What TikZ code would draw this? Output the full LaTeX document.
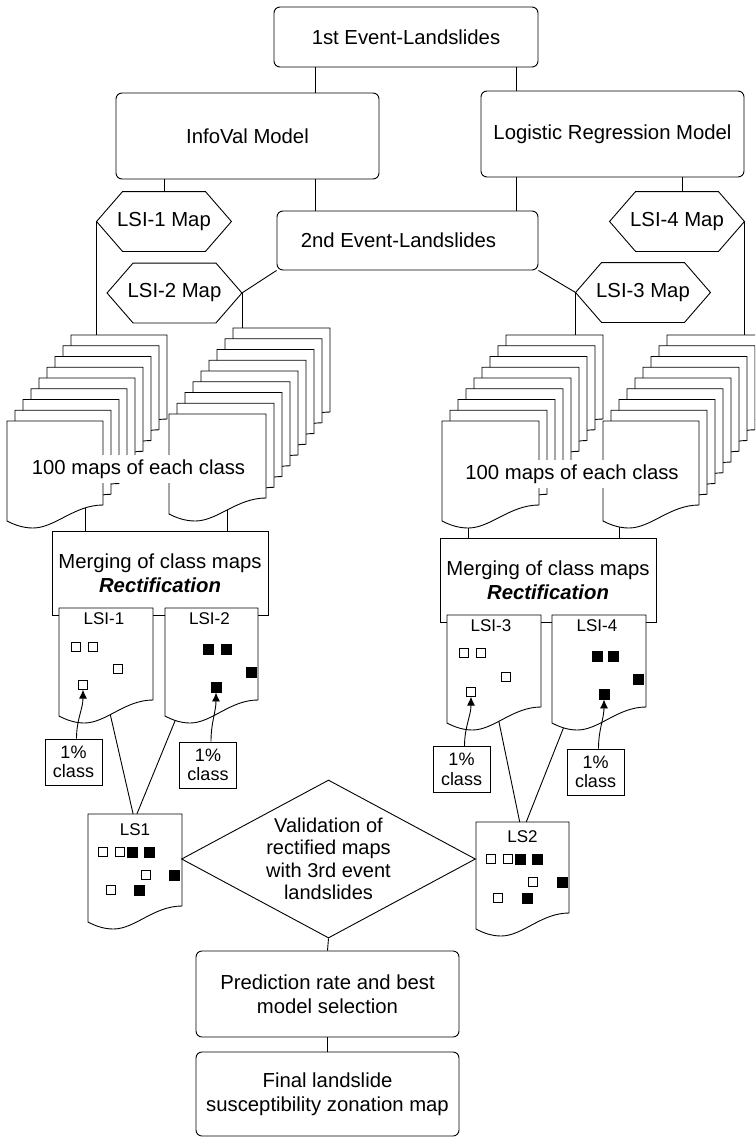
\documentclass[tikz,border=0pt]{standalone}
\usepackage{fontspec}
\setmainfont{Liberation Sans}
\usetikzlibrary{shapes.geometric,arrows.meta,calc,backgrounds}

\newcommand{\mainfs}{\fontsize{20.3pt}{23.5pt}\selectfont}
\newcommand{\smallfs}{\fontsize{17pt}{19pt}\selectfont}
\newcommand{\pctfs}{\fontsize{18pt}{19.5pt}\selectfont}
\newcommand{\diafs}{\fontsize{20pt}{22.5pt}\selectfont}

% map sheet: name, x, y (top left), width, height
\newcommand{\mapsheet}[5]{%
  \node[sheet, minimum width=#4pt, minimum height=#5pt] (#1) at (#2,#3) {};
  \filldraw[fill=white] (#1.north west) -- (#1.north east) -- (#1.south east)
    .. controls ($(#1.south west)!.7!(#1.south east)$) and ($(#1.south west)!.5!(#1.south east)+(0,23)$)
    .. ($(#1.south west)!.27!(#1.south east)+(0,23)$)
    .. controls ($(#1.south west)!.17!(#1.south east)+(0,23)$) and ($(#1.south west)!.08!(#1.south east)+(0,20)$)
    .. ($(#1.south west)+(0,16)$) -- cycle;
}
% hexagon label: name, x, y, text
\newcommand{\hexmap}[4]{%
  \node[hexbox] (#1) at (#2,#3) {#4};
  \draw (#1.west) -- ([xshift=26pt]#1.north west) -- ([xshift=-26pt]#1.north east)
    -- (#1.east) -- ([xshift=-26pt]#1.south east) -- ([xshift=26pt]#1.south west) -- cycle;
}
% class squares on a sheet: sheet, style, offsets
\newcommand{\classmarks}[3]{%
  \foreach \dx/\dy [count=\i] in {#3}
    \node[#2] (#1#2\i) at ($(#1.north west)+(\dx,\dy)$) {};
}

\begin{document}
\begin{tikzpicture}[x=1pt, y=-1pt, line width=0.9pt,
    every node/.style={font=\mainfs},
    every on background layer/.style={line width=0.9pt},
    box/.style={draw, rounded corners=6pt, minimum width=263pt, minimum height=86pt, inner sep=0pt, align=center},
    plainbox/.style={draw, minimum width=216pt, minimum height=84pt, inner sep=0pt, align=center},
    hexbox/.style={minimum width=134pt, minimum height=59pt, inner sep=0pt},
    sheet/.style={anchor=north west, inner sep=0pt, outer sep=0pt},
    opensq/.style={draw, fill=white, minimum size=8.5pt, inner sep=0pt, line width=0.8pt},
    fullsq/.style={draw, fill=black, minimum size=10pt, inner sep=0pt},
    pctbox/.style={draw, font=\pctfs, align=center, minimum width=57pt, minimum height=46pt, inner sep=0pt},
    count/.style={fill=white, inner xsep=2pt, inner ysep=5pt},
    valid/.style={diamond, draw, aspect=1.86, inner sep=0pt, minimum width=294pt, minimum height=158pt, align=center, font=\diafs}]
    \useasboundingbox (0,0) rectangle (755,1137);
    \clip (0,0) rectangle (755,1137);

    \node[box, minimum width=264pt, minimum height=60pt] (ev1) at (406,37) {1st Event-Landslides};
    \node[box] (infoval) at (247.5,136) {InfoVal Model};
    \node[box] (logreg) at (612.5,134) {Logistic Regression Model};
    \node[box, minimum width=261pt, minimum height=59pt] (ev2) at (407.5,240.5) {\hspace*{-18pt}2nd Event-Landslides};

    \hexmap{lsi1map}{164}{221.5}{LSI-1 Map}
    \hexmap{lsi2map}{174.5}{293}{LSI-2 Map}
    \hexmap{lsi3map}{643}{292.5}{LSI-3 Map}
    \hexmap{lsi4map}{677}{221.5}{LSI-4 Map}

    % 100 maps per class
    \foreach \k in {8,7,...,0} {
      \mapsheet{sA\k}{7+8*\k}{421-10.75*\k}{96}{84}
      \mapsheet{sB\k}{169+8*\k}{414-10.75*\k}{97}{84}
      \mapsheet{sC\k}{442+8*\k}{421-10.75*\k}{97}{84}
      \mapsheet{sD\k}{603+8*\k}{421-10.75*\k}{96}{84}
    }
    \node[count] (cntL) at (138.5,469) {100 maps of each class};
    \node[count] (cntR) at (572,474) {100 maps of each class};

    \node[plainbox] (mergeL) at (160,573) {Merging of class maps\\\textbf{\textit{Rectification}}};
    \node[plainbox] (mergeR) at (548,580) {Merging of class maps\\\textbf{\textit{Rectification}}};

    \mapsheet{lsi1}{59}{608}{94}{92}
    \node[font=\smallfs] (lsi1t) at ($(lsi1.north)+(-2,11)$) {LSI-1};
    \classmarks{lsi1}{opensq}{17/39,34/39,59/61,24/77}
    \mapsheet{lsi2}{165}{608}{93}{92}
    \node[font=\smallfs] (lsi2t) at ($(lsi2.north)+(-2,11)$) {LSI-2};
    \classmarks{lsi2}{fullsq}{43/41,61/41,86/64,51/79}
    \mapsheet{lsi3}{447}{615}{94}{92}
    \node[font=\smallfs] (lsi3t) at ($(lsi3.north)+(-3,11)$) {LSI-3};
    \classmarks{lsi3}{opensq}{17/38,34/38,59/62,24/77}
    \mapsheet{lsi4}{552}{615}{94}{92}
    \node[font=\smallfs] (lsi4t) at ($(lsi4.north)+(-2,11)$) {LSI-4};
    \classmarks{lsi4}{fullsq}{45/41,61/41,86/64,52/79}

    \node[pctbox] (pc1) at (73.5,762) {1\%\\class};
    \node[pctbox] (pc2) at (208,765) {1\%\\class};
    \node[pctbox] (pc3) at (461.5,769.5) {1\%\\class};
    \node[pctbox] (pc4) at (595.5,772) {1\%\\class};
    \foreach \p/\m in {pc1/lsi1opensq4, pc2/lsi2fullsq4, pc3/lsi3opensq4, pc4/lsi4fullsq4}
      \draw[-{Latex[length=9pt,width=8pt]}] ([xshift=3pt]\p.north) to[out=90,in=-90] (\m.south);

    \mapsheet{ls1}{88}{814}{94}{92}
    \node[font=\smallfs] (ls1t) at ($(ls1.north)+(0,16)$) {LS1};
    \classmarks{ls1}{opensq}{15/38,32/38,58/61,23/76}
    \classmarks{ls1}{fullsq}{44/38,61/38,86/61,51/76}
    \mapsheet{ls2}{476}{822}{93}{91}
    \node[font=\smallfs] (ls2t) at ($(ls2.north)+(0,15)$) {LS2};
    \classmarks{ls2}{opensq}{15/37,32/37,57/60,22/76}
    \classmarks{ls2}{fullsq}{44/37,61/37,86/60,51/76}

    \node[valid] (valid) at (328.5,859) {Validation of\\rectified maps\\with 3rd event\\landslides};
    \node[box] (pred) at (327.5,994) {Prediction rate and best\\model selection};
    \node[box, minimum height=84pt] (final) at (327.5,1094) {Final landslide\\susceptibility zonation map};

    \begin{scope}[on background layer]
      \coordinate (cL) at ($(ev1.south west)+(42,0)$);
      \coordinate (cR) at ($(ev1.south east)+(-22,0)$);
      \draw (cL) -- (cL |- infoval.north);
      \draw (cR) -- (cR |- logreg.north);
      \draw (cL |- infoval.south) -- (cL |- ev2.north);
      \draw (cR |- logreg.south) -- (cR |- ev2.north);
      \draw (lsi1map.north) -- (lsi1map.north |- infoval.south);
      \draw ([xshift=5pt]lsi4map.north) -- ([xshift=5pt]lsi4map.north |- logreg.south);
      \draw (ev2.south west) -- (lsi2map.east);
      \draw (ev2.south east) -- (lsi3map.west);
      \draw (lsi1map.west) -- (lsi1map.west |- sA8.north);
      \draw (lsi2map.east) -- (lsi2map.east |- sB8.north);
      \draw (lsi3map.west) -- (lsi3map.west |- sC8.north);
      \draw (lsi4map.east) -- (lsi4map.east |- sD8.north);
      \foreach \s/\f/\m in {sA0/.82/mergeL, sB0/.6/mergeL, sC0/.27/mergeR, sD0/.17/mergeR} {
        \coordinate (p) at ($(\s.south west)!\f!(\s.south east)$);
        \draw (p) -- (p |- \m.north);
      }
      \draw ($(lsi1.south west)!.51!(lsi1.south east)$) -- ($(ls1.north west)!.48!(ls1.north east)$);
      \draw ($(lsi2.south west)!.2!(lsi2.south east)$) -- ($(ls1.north west)!.52!(ls1.north east)$);
      \draw ($(lsi3.south west)!.52!(lsi3.south east)$) -- ($(ls2.north west)!.47!(ls2.north east)$);
      \draw ($(lsi4.south west)!.21!(lsi4.south east)$) -- ($(ls2.north west)!.54!(ls2.north east)$);
      \draw (valid.south) -- (pred.north);
      \draw (pred.south) -- (final.north);
    \end{scope}
\end{tikzpicture}
\end{document}
